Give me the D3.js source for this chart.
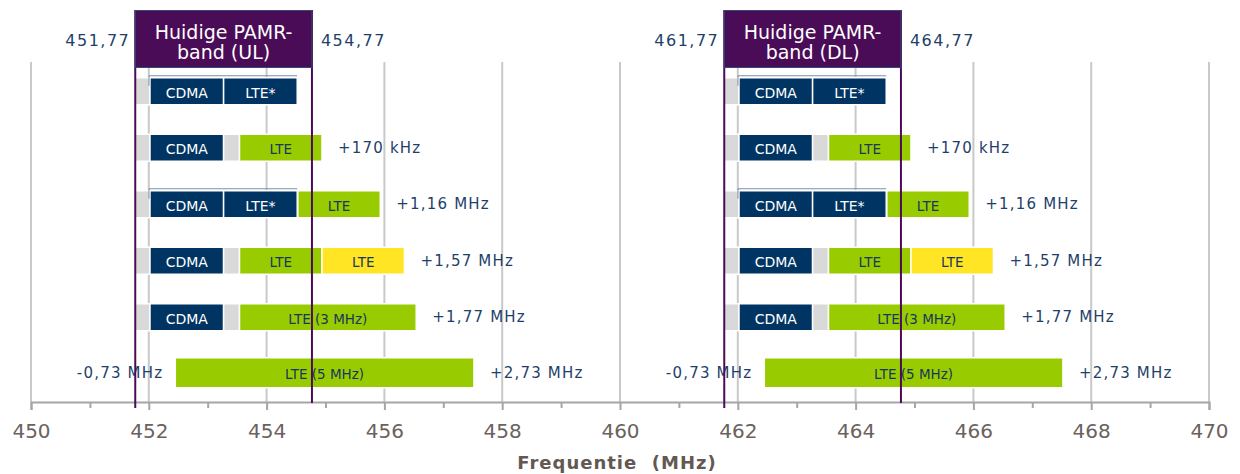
<!DOCTYPE html>
<html>
<head>
<meta charset="utf-8">
<script src="https://cdn.jsdelivr.net/npm/d3@7/dist/d3.min.js"></script>
<style>
  html, body { margin: 0; padding: 0; background: #ffffff; }
  svg { display: block; }
  text { font-family: "DejaVu Sans", Verdana, sans-serif; }
</style>
</head>
<body>
<svg id="chart" width="1240" height="474"></svg>
<script>
// ---------- data ----------
const majorTicks = [450, 452, 454, 456, 458, 460, 462, 464, 466, 468, 470];
const minorTicks = [451, 453, 455, 457, 459, 461, 463, 465, 467, 469];
const axisTitle = "Frequentie  (MHz)";

// current PAMR bands (MHz)
const bandNames = [["Huidige PAMR-", "band (UL)"], ["Huidige PAMR-", "band (DL)"]];
const bandLow = [451.77, 461.77];
const bandHigh = [454.77, 464.77];
const bandLowLabels = ["451,77", "461,77"];
const bandHighLabels = ["454,77", "464,77"];

// scenario rows; segments as [start offset, end offset] in MHz from band low edge
const rowIds = ["r0", "r1", "r2", "r3", "r4", "r5"];
const segStart = [
  [0, 0.25, 1.50],
  [0, 0.25, 1.50, 1.77],
  [0, 0.25, 1.50, 2.76],
  [0, 0.25, 1.50, 1.77, 3.17],
  [0, 0.25, 1.50, 1.77],
  [0.68]
];
const segEnd = [
  [0.25, 1.50, 2.75],
  [0.25, 1.50, 1.77, 3.17],
  [0.25, 1.50, 2.75, 4.16],
  [0.25, 1.50, 1.77, 3.17, 4.57],
  [0.25, 1.50, 1.77, 4.77],
  [5.75]
];
const segType = [
  ["guard", "cdma", "ltestar"],
  ["guard", "cdma", "guard", "lte"],
  ["guard", "cdma", "ltestar", "lte"],
  ["guard", "cdma", "guard", "lte", "lteext"],
  ["guard", "cdma", "guard", "lte"],
  ["lte"]
];
const segLabel = [
  ["", "CDMA", "LTE*"],
  ["", "CDMA", "", "LTE"],
  ["", "CDMA", "LTE*", "LTE"],
  ["", "CDMA", "", "LTE", "LTE"],
  ["", "CDMA", "", "LTE (3 MHz)"],
  ["LTE (5 MHz)"]
];
const rightLabels = ["", "+170 kHz", "+1,16 MHz", "+1,57 MHz", "+1,77 MHz", "+2,73 MHz"];
const leftLabels = ["", "", "", "", "", "-0,73 MHz"];

// ---------- styles ----------
const fillColor = { guard: "#d9d9d9", cdma: "#003462", ltestar: "#003462", lte: "#99cc00", lteext: "#ffe523" };
const textColor = { guard: "#ffffff", cdma: "#ffffff", ltestar: "#ffffff", lte: "#17375e", lteext: "#17375e" };
const purple = "#4a0b57";
const labelBlue = "#1f3f6b";

const svg = d3.select("#chart");
const x = d3.scaleLinear().domain([450, 470]).range([31, 1209]);
const y = d3.scaleBand().domain(rowIds).range([63, 402]).paddingInner(0).paddingOuter(0);
const axisY = 402;

// gridlines
svg.append("g").selectAll("line").data(majorTicks).join("line")
  .attr("x1", d => x(d)).attr("x2", d => x(d))
  .attr("y1", 62).attr("y2", axisY)
  .attr("stroke", "#c9c9c9").attr("stroke-width", 2);

// axis
const axis = d3.axisBottom(x).tickValues(majorTicks).tickSize(8).tickPadding(6)
  .tickFormat(d3.format("d"));
const gAxis = svg.append("g").attr("transform", `translate(0,${axisY})`).call(axis);
gAxis.select(".domain").attr("stroke", "#a6a6a6").attr("stroke-width", 2);
gAxis.selectAll(".tick line").attr("stroke", "#a6a6a6").attr("stroke-width", 2);
gAxis.selectAll(".tick text")
  .attr("font-family", "DejaVu Sans, sans-serif")
  .attr("font-size", 20).attr("fill", "#6b625e").attr("dy", "0.72em").attr("y", 21.5);
const minorAxis = d3.axisBottom(x).tickValues(minorTicks).tickSize(6).tickFormat("");
const gMinor = svg.append("g").attr("transform", `translate(0,${axisY})`).call(minorAxis);
gMinor.select(".domain").remove();
gMinor.selectAll(".tick line").attr("stroke", "#a6a6a6").attr("stroke-width", 2);

svg.append("text")
  .attr("x", 617).attr("y", 469)
  .attr("text-anchor", "middle")
  .attr("font-size", 18).attr("font-weight", "bold")
  .attr("letter-spacing", 1)
  .style("white-space", "pre")
  .attr("fill", "#645853")
  .text(axisTitle);

// rows
bandLow.forEach((lo, b) => {
  const g = svg.append("g");
  rowIds.forEach((rid, r) => {
    const last = r === rowIds.length - 1;
    const h = last ? 30 : 27;
    const cy = y(rid) + y.bandwidth() / 2 - (last ? 1 : 0);
    const top = cy - h / 2;
    const segs = segStart[r].map((s, i) => ({
      a: lo + s, b: lo + segEnd[r][i], t: segType[r][i], l: segLabel[r][i]
    }));
    g.selectAll(null).data(segs).join("rect")
      .attr("x", d => x(d.a)).attr("width", d => x(d.b) - x(d.a))
      .attr("y", top).attr("height", h)
      .attr("fill", d => fillColor[d.t])
      .attr("stroke", "#ffffff").attr("stroke-width", 1.5);
    g.selectAll(null).data(segs.filter(d => d.l)).join("text")
      .attr("x", d => (x(d.a) + x(d.b)) / 2).attr("y", cy + 6.5)
      .attr("text-anchor", "middle")
      .attr("font-size", d => d.t === "cdma" || d.t === "ltestar" ? 14 : 13.5)
      .attr("fill", d => textColor[d.t])
      .text(d => d.l);
    // outline above CDMA + LTE* groups
    if (segType[r].includes("ltestar")) {
      const c = segs.find(d => d.t === "cdma");
      const s = segs.find(d => d.t === "ltestar");
      g.append("path")
        .attr("d", `M${x(c.a) - 1},${top + 8} V${top - 2} H${x(s.b)}`)
        .attr("fill", "none").attr("stroke", "#7d8fa6").attr("stroke-width", 1);
    }
    const ends = segs[segs.length - 1].b;
    if (rightLabels[r]) {
      g.append("text")
        .attr("x", x(ends) + 16).attr("y", cy + 5)
        .attr("font-size", 15).attr("letter-spacing", 1.2)
        .attr("fill", labelBlue).text(rightLabels[r]);
    }
    if (leftLabels[r]) {
      g.append("text")
        .attr("x", x(segs[0].a) - 12).attr("y", cy + 5)
        .attr("text-anchor", "end")
        .attr("font-size", 15).attr("letter-spacing", 1.2)
        .attr("fill", labelBlue).text(leftLabels[r]);
    }
  });
});

// band markers
bandLow.forEach((lo, b) => {
  const hi = bandHigh[b];
  svg.append("line").attr("x1", x(lo)).attr("x2", x(lo)).attr("y1", 10).attr("y2", 408)
    .attr("stroke", purple).attr("stroke-width", 2);
  svg.append("line").attr("x1", x(hi)).attr("x2", x(hi)).attr("y1", 10).attr("y2", 403)
    .attr("stroke", purple).attr("stroke-width", 2);
  svg.append("rect")
    .attr("x", x(lo)).attr("y", 10.5)
    .attr("width", x(hi) - x(lo)).attr("height", 57)
    .attr("fill", purple).attr("stroke", "#2d4d72").attr("stroke-width", 1);
  svg.append("text").attr("x", (x(lo) + x(hi)) / 2).attr("y", 39)
    .attr("text-anchor", "middle").attr("font-size", 19).attr("fill", "#ffffff")
    .text(bandNames[b][0]);
  svg.append("text").attr("x", (x(lo) + x(hi)) / 2).attr("y", 59)
    .attr("text-anchor", "middle").attr("font-size", 19).attr("fill", "#ffffff")
    .text(bandNames[b][1]);
  svg.append("text").attr("x", x(lo) - 5).attr("y", 46)
    .attr("text-anchor", "end").attr("font-size", 16).attr("letter-spacing", 1.5)
    .attr("fill", labelBlue).text(bandLowLabels[b]);
  svg.append("text").attr("x", x(hi) + 9).attr("y", 46)
    .attr("font-size", 16).attr("letter-spacing", 1.5)
    .attr("fill", labelBlue).text(bandHighLabels[b]);
});
</script>
</body>
</html>
